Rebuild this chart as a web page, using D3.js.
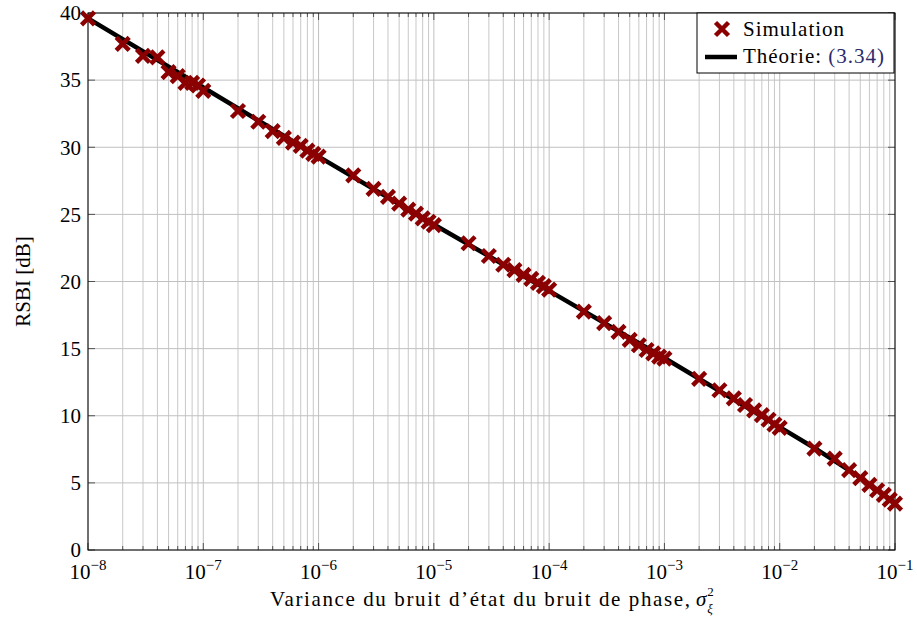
<!DOCTYPE html>
<html><head><meta charset="utf-8">
<script src="https://cdn.jsdelivr.net/npm/d3@7"></script>
<style>
html,body{margin:0;padding:0;background:#fff;}
</style></head>
<body><svg id="c" width="917" height="617" font-family="'Liberation Serif','DejaVu Serif',serif"></svg>
<script>
// ---- data ----
const simX = [1e-8,2e-8,3e-8,4e-8,5e-8,6e-8,7e-8,8e-8,9e-8,
  1e-7,2e-7,3e-7,4e-7,5e-7,6e-7,7e-7,8e-7,9e-7,
  1e-6,2e-6,3e-6,4e-6,5e-6,6e-6,7e-6,8e-6,9e-6,
  1e-5,2e-5,3e-5,4e-5,5e-5,6e-5,7e-5,8e-5,9e-5,
  1e-4,2e-4,3e-4,4e-4,5e-4,6e-4,7e-4,8e-4,9e-4,
  1e-3,2e-3,3e-3,4e-3,5e-3,6e-3,7e-3,8e-3,9e-3,
  1e-2,2e-2,3e-2,4e-2,5e-2,6e-2,7e-2,8e-2,9e-2,
  1e-1];
const simY = [39.6,37.7,36.8,36.7,35.6,35.3,34.8,34.8,34.6,
  34.2,32.7,31.9,31.2,30.7,30.35,30.1,29.75,29.5,
  29.3,27.9,26.9,26.3,25.8,25.35,25.05,24.7,24.45,
  24.2,22.85,21.9,21.25,20.85,20.5,20.2,19.9,19.65,
  19.4,17.75,16.9,16.25,15.65,15.25,14.9,14.65,14.4,
  14.25,12.75,11.9,11.3,10.8,10.4,10.05,9.7,9.35,
  9.1,7.55,6.8,5.95,5.35,4.85,4.45,4.1,3.75,
  3.45];
const theoryX = [1e-8,1e-7,1e-6,1e-5,1e-4,1e-3,1e-2,2e-2,5e-2,1e-1];
const theoryY = [39.6,34.45,29.3,24.25,19.3,14.3,9.15,7.6,5.4,3.5];
const xTickExp = [-8,-7,-6,-5,-4,-3,-2,-1];
const yTicks = [0,5,10,15,20,25,30,35,40];
const xLabel = "Variance du bruit d\u2019\u00e9tat du bruit de phase,";
const yLabel = "RSBI [dB]";
const legendSim = "Simulation";
const legendTh = "Th\u00e9orie:\u00a0";
const legendRef = "(3.34)";

// ---- layout ----
const L = 88, R = 895, T = 13, B = 550;
const red = "#8b0000";
const FS = 21;
const svg = d3.select("#c");
const x = d3.scaleLog().domain([1e-8,1e-1]).range([L,R]);
const y = d3.scaleLinear().domain([0,40]).range([B,T]);

const minor = [];
for (let e=-8;e<-1;e++) for (let k=2;k<=9;k++) minor.push(k*Math.pow(10,e));
const major = xTickExp.map(e=>Math.pow(10,e));

const grid = svg.append("g");
grid.selectAll("line.vm").data(minor).join("line")
  .attr("x1",d=>x(d)).attr("x2",d=>x(d)).attr("y1",T).attr("y2",B)
  .attr("stroke","#c8c8c8").attr("stroke-width",1);
grid.selectAll("line.vM").data(major).join("line")
  .attr("x1",d=>x(d)).attr("x2",d=>x(d)).attr("y1",T).attr("y2",B)
  .attr("stroke","#c0c0c0").attr("stroke-width",1);
grid.selectAll("line.h").data(yTicks).join("line")
  .attr("x1",L).attr("x2",R).attr("y1",d=>y(d)).attr("y2",d=>y(d))
  .attr("stroke","#c0c0c0").attr("stroke-width",1);

const tk = svg.append("g").attr("stroke","#333").attr("stroke-width",0.8);
minor.forEach(d=>{
  tk.append("line").attr("x1",x(d)).attr("x2",x(d)).attr("y1",B).attr("y2",B-4);
  tk.append("line").attr("x1",x(d)).attr("x2",x(d)).attr("y1",T).attr("y2",T+4);
});
major.forEach(d=>{
  tk.append("line").attr("x1",x(d)).attr("x2",x(d)).attr("y1",B).attr("y2",B-7);
  tk.append("line").attr("x1",x(d)).attr("x2",x(d)).attr("y1",T).attr("y2",T+7);
});
yTicks.forEach(d=>{
  tk.append("line").attr("x1",L).attr("x2",L+7).attr("y1",y(d)).attr("y2",y(d));
  tk.append("line").attr("x1",R).attr("x2",R-7).attr("y1",y(d)).attr("y2",y(d));
});

svg.append("rect").attr("x",L).attr("y",T).attr("width",R-L).attr("height",B-T)
  .attr("fill","none").attr("stroke","#000").attr("stroke-width",1);

const line = d3.line().x((d,i)=>x(theoryX[i])).y(d=>y(d));
svg.append("path").datum(theoryY).attr("d",line)
  .attr("fill","none").attr("stroke","#000").attr("stroke-width",4.5);

const s = 6.5;
function xMark(g,cx,cy){
  g.append("path").attr("d",`M${cx-s},${cy-s}L${cx+s},${cy+s}M${cx-s},${cy+s}L${cx+s},${cy-s}`)
   .attr("stroke",red).attr("stroke-width",4.5).attr("fill","none");
}
const mg = svg.append("g");
simX.forEach((vx,i)=>xMark(mg,x(vx),y(simY[i])));

svg.append("g").selectAll("text").data(yTicks).join("text")
  .attr("x",L-7).attr("y",d=>y(d)).attr("dy","0.35em")
  .attr("text-anchor","end").attr("font-size",FS).text(d=>d);

const xl = svg.append("g");
xTickExp.forEach(e=>{
  const t = xl.append("text").attr("x",x(Math.pow(10,e))).attr("y",579)
    .attr("text-anchor","middle").attr("font-size",FS);
  t.append("tspan").text("10");
  t.append("tspan").attr("font-size",15).attr("dy",-9).text("\u2212"+(-e));
});

// x axis label: main text + sigma with stacked sub/superscript
const labX = 270, labW = 420, labY = 606;
svg.append("text").attr("x",labX).attr("y",labY).attr("font-size",FS)
  .attr("textLength",labW).attr("lengthAdjust","spacing").text(xLabel);
const sx = labX + labW + 6;
const sig = svg.append("text").attr("x",sx).attr("y",labY).attr("font-size",FS)
  .attr("font-style","italic").text("\u03c3");
const sw = sig.node().getComputedTextLength();
svg.append("text").attr("x",sx+sw+1).attr("y",596).attr("font-size",13).text("2");
svg.append("text").attr("x",sx+sw+1).attr("y",613).attr("font-size",13)
  .attr("font-style","italic").text("\u03be");

svg.append("text").attr("transform",`translate(30,${(T+B)/2}) rotate(-90)`)
  .attr("text-anchor","middle").attr("font-size",FS).text(yLabel);

const lg = svg.append("g");
lg.append("rect").attr("x",697).attr("y",13).attr("width",197).attr("height",60)
  .attr("fill","#fff").attr("stroke","#000").attr("stroke-width",1);
xMark(lg,722,29);
lg.append("text").attr("x",743).attr("y",36).attr("font-size",FS)
  .attr("textLength",101).attr("lengthAdjust","spacing").text(legendSim);
lg.append("line").attr("x1",705).attr("x2",737).attr("y1",57).attr("y2",57)
  .attr("stroke","#000").attr("stroke-width",4.5);
const lt = lg.append("text").attr("x",743).attr("y",63).attr("font-size",FS)
  .attr("textLength",141).attr("lengthAdjust","spacing");
lt.append("tspan").text(legendTh);
lt.append("tspan").attr("fill","#2b2b6b").text(legendRef);
</script></body></html>
